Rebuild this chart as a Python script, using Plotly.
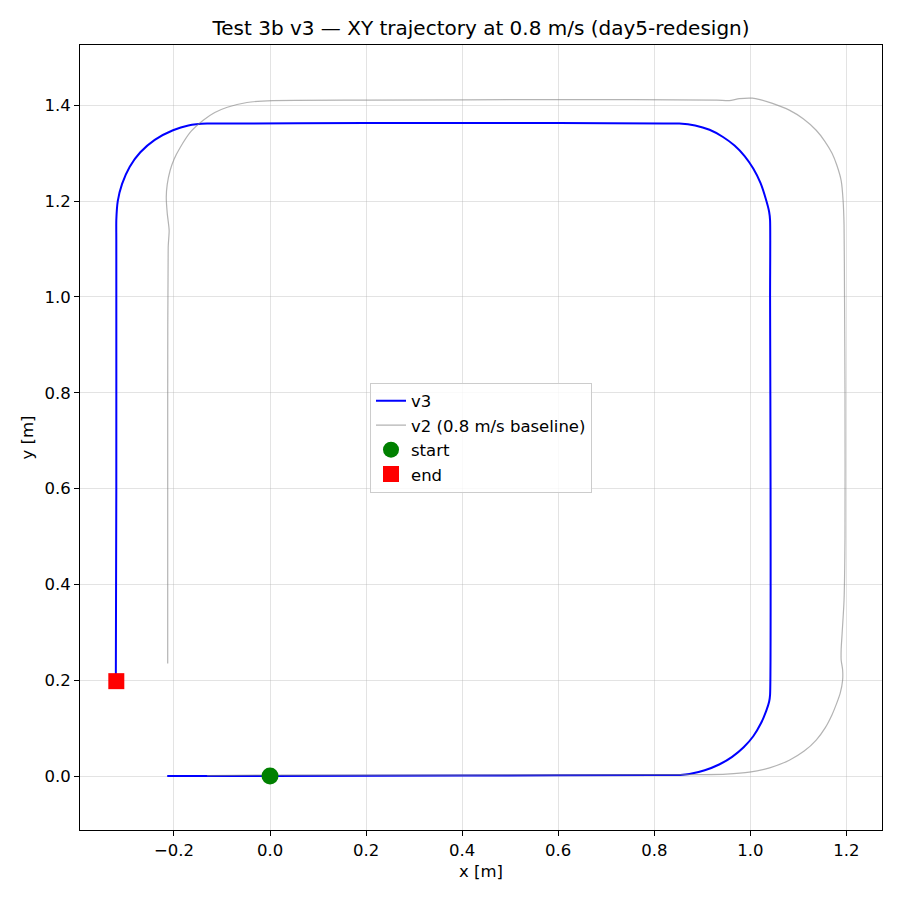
import plotly.graph_objects as go

# v3 trajectory (blue)
v3_x = [-0.214, 0.0, 0.4, 0.80, 0.83, 0.854, 0.873, 0.905, 0.935, 0.962, 0.986, 1.006, 1.022, 1.033,
        1.039, 1.041, 1.042, 1.041, 1.041, 1.039, 1.032, 1.021, 1.006, 0.988, 0.967, 0.943,
        0.915, 0.885, 0.852, 0.82, 0.6, 0.2, -0.10, -0.131, -0.170, -0.202, -0.240, -0.270,
        -0.292, -0.308, -0.317, -0.320, -0.320, -0.320, -0.321]
v3_y = [0.0, 0.0, 0.001, 0.002, 0.002, 0.002, 0.004, 0.012, 0.024, 0.040, 0.060, 0.083, 0.110, 0.136,
        0.155, 0.170, 0.6, 1.0, 1.160, 1.178, 1.205, 1.238, 1.268, 1.294, 1.316, 1.334,
        1.349, 1.358, 1.362, 1.362, 1.363, 1.363, 1.362, 1.362, 1.358, 1.348, 1.328, 1.302,
        1.272, 1.236, 1.200, 1.160, 1.12, 0.6, 0.198]

# v2 baseline trajectory (grey)
v2_x = [-0.131, 0.0, 0.4, 0.8, 0.9, 0.95, 0.998, 1.040, 1.081, 1.112, 1.137, 1.156, 1.170, 1.179,
        1.187, 1.192, 1.192, 1.189, 1.189, 1.191, 1.195, 1.197, 1.197, 1.196, 1.195, 1.193,
        1.189, 1.180, 1.170, 1.155, 1.137, 1.110, 1.081, 1.046, 1.020, 1.004, 0.977, 0.956,
        0.93, 0.6, 0.2, 0.006, -0.048, -0.089, -0.115, -0.139, -0.165, -0.187, -0.200,
        -0.208, -0.214, -0.216, -0.214, -0.210, -0.212, -0.213, -0.213]
v2_y = [0.001, 0.002, 0.002, 0.003, 0.003, 0.004, 0.008, 0.017, 0.033, 0.052, 0.075, 0.101, 0.128, 0.150,
        0.173, 0.200, 0.222, 0.242, 0.265, 0.298, 0.367, 0.5, 0.8, 1.0, 1.15, 1.202,
        1.243, 1.275, 1.300, 1.325, 1.348, 1.372, 1.390, 1.404, 1.412, 1.415, 1.414, 1.410,
        1.411, 1.412, 1.411, 1.410, 1.406, 1.396, 1.385, 1.369, 1.345, 1.312, 1.287,
        1.264, 1.235, 1.208, 1.175, 1.139, 1.104, 0.8, 0.235]

start_xy = [0.0, 0.0]
end_xy = [-0.320, 0.198]

xticks = [-0.2, 0.0, 0.2, 0.4, 0.6, 0.8, 1.0, 1.2]
yticks = [0.0, 0.2, 0.4, 0.6, 0.8, 1.0, 1.2, 1.4]

fig = go.Figure()

fig.add_trace(go.Scatter(x=v3_x, y=v3_y, mode='lines', name='v3',
                         line=dict(color='#0000ff', width=2, shape='spline', smoothing=0.6)))
fig.add_trace(go.Scatter(x=v2_x, y=v2_y, mode='lines', name='v2 (0.8 m/s baseline)',
                         line=dict(color='rgba(128,128,128,0.6)', width=1.2, shape='spline', smoothing=0.6)))
fig.add_trace(go.Scatter(x=[start_xy[0]], y=[start_xy[1]], mode='markers', name='start',
                         marker=dict(color='#008000', size=17, symbol='circle')))
fig.add_trace(go.Scatter(x=[end_xy[0]], y=[end_xy[1]], mode='markers', name='end',
                         marker=dict(color='#ff0000', size=16, symbol='square')))

axis_style = dict(showline=True, mirror=True, linecolor='black', linewidth=1,
                  ticks='outside', ticklen=5, tickcolor='black',
                  showgrid=True, gridcolor='rgba(176,176,176,0.35)', gridwidth=1,
                  zeroline=False, tickformat='.1f',
                  tickfont=dict(size=16.5, color='black'))

fig.update_xaxes(range=[-0.3956, 1.274], tickvals=xticks,
                 title=dict(text='x [m]', font=dict(size=16.5, color='black'), standoff=6),
                 **axis_style)
fig.update_yaxes(range=[-0.1127, 1.526], tickvals=yticks,
                 title=dict(text='y [m]', font=dict(size=16.5, color='black'), standoff=6),
                 **axis_style)

# the page adds an 8 px body margin, so margins are shifted to compensate
fig.update_layout(
    width=900, height=900,
    margin=dict(l=72, r=26, t=37, b=78),
    paper_bgcolor='white', plot_bgcolor='white',
    font=dict(family='DejaVu Sans', color='black'),
    title=dict(text='Test 3b v3 — XY trajectory at 0.8 m/s (day5-redesign)',
               x=0.5, xref='paper', y=1 - 20 / 900, yanchor='middle',
               font=dict(size=20, color='black')),
    legend=dict(x=0.5, y=0.5, xanchor='center', yanchor='middle',
                bgcolor='rgba(255,255,255,0.8)', bordercolor='#cccccc', borderwidth=1,
                font=dict(size=16.5, color='black')),
)

fig.write_html("out.html")
